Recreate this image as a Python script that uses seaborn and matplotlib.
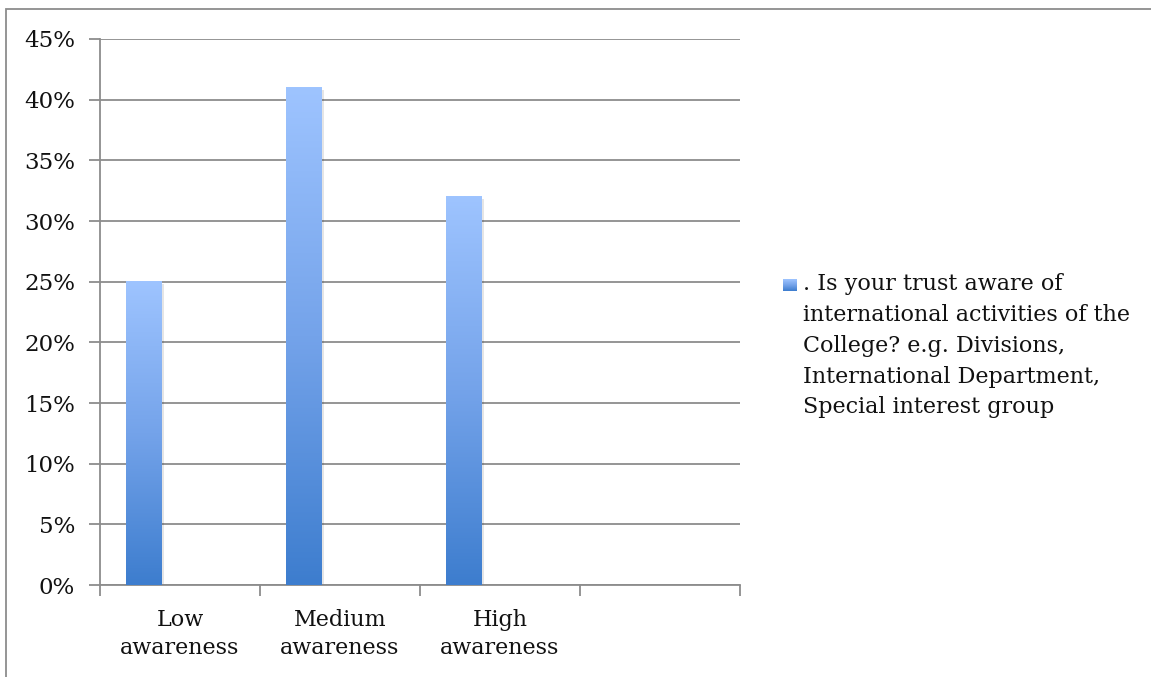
import textwrap
import matplotlib
matplotlib.use('Agg')
import matplotlib.pyplot as plt
import numpy as np
import pandas as pd
import seaborn as sns
from matplotlib.colors import LinearSegmentedColormap
from matplotlib.patches import Rectangle

# ── data ────────────────────────────────────────────────────
categories = ['Low\nawareness', 'Medium\nawareness', 'High\nawareness', '']
series_name = ('. Is your trust aware of international activities of the '
               'College? e.g. Divisions, International Department, '
               'Special interest group')
values = [0.25, 0.41, 0.32, np.nan]          # share of respondents
# the source chart had two more (blank) series in each cluster
blank_series = ['blank 2', 'blank 3']
y_ticks = [0, 0.05, 0.10, 0.15, 0.20, 0.25, 0.30, 0.35, 0.40, 0.45]

rows = []
for c, v in zip(categories, values):
    rows.append({'cat': c, 'series': series_name, 'val': 0 if np.isnan(v) else v})
    for b in blank_series:
        rows.append({'cat': c, 'series': b, 'val': 0})
df = pd.DataFrame(rows)

top_col, bot_col = '#9EC4FF', '#3D7DCE'
grad = LinearSegmentedColormap.from_list('bargrad', [bot_col, '#74A3EA', top_col])
grid_col = '#8C8C8C'

sns.set_style('white')
plt.rcParams['font.family'] = ['DejaVu Serif']
plt.rcParams['text.color'] = '#111111'
plt.rcParams['xtick.labelcolor'] = '#111111'
plt.rcParams['ytick.labelcolor'] = '#111111'

fig = plt.figure(figsize=(11.51, 6.77), dpi=100)
ax = fig.add_axes([100 / 1151, 1 - 585 / 677, 640 / 1151, 546 / 677])

sns.barplot(data=df, x='cat', y='val', hue='series',
            order=categories, hue_order=[series_name] + blank_series,
            width=0.675, palette=[bot_col, 'none', 'none'],
            linewidth=0, legend=False, ax=ax, zorder=3)

# gradient fill on each real bar
for p in list(ax.patches):
    h = p.get_height()
    if not np.isfinite(h) or h <= 0:
        p.set_visible(False)
        continue
    x0, w = p.get_x(), p.get_width()
    # soft shadow
    ax.add_patch(Rectangle((x0 + 0.012, 0), w, h - 0.002, facecolor='#000000',
                           alpha=0.10, linewidth=0, zorder=2.5))
    ax.imshow(np.linspace(0, 1, 256).reshape(-1, 1), cmap=grad, origin='lower',
              extent=[x0, x0 + w, 0, h], aspect='auto', zorder=3.2)
    p.set_visible(False)

ax.set_xlim(-0.5, len(categories) - 0.5)
ax.set_ylim(0, 0.45)
ax.set_yticks(y_ticks)
ax.set_yticklabels([f'{int(round(t * 100))}%' for t in y_ticks], fontsize=16.5)
ax.yaxis.grid(True, color=grid_col, linewidth=1.3, zorder=0)
ax.set_axisbelow(True)
ax.tick_params(axis='y', length=8, width=1.3, color=grid_col, pad=10, left=True)

# slot boundary ticks, labels in the middle
ax.set_xticks(np.arange(-0.5, len(categories), 1.0))
ax.set_xticklabels([])
ax.set_xticks(np.arange(len(categories)), minor=True)
ax.set_xticklabels(categories, minor=True, fontsize=16, linespacing=1.35)
ax.tick_params(axis='x', which='major', length=8, width=1.3, color=grid_col,
               bottom=True)
ax.tick_params(axis='x', which='minor', length=0, pad=17)
ax.set_xlabel('')
ax.set_ylabel('')

for s in ['top', 'right']:
    ax.spines[s].set_visible(False)
for s in ['left', 'bottom']:
    ax.spines[s].set_color(grid_col)
    ax.spines[s].set_linewidth(1.3)

# legend drawn by hand so the marker sits on the first line
lab = textwrap.fill(series_name, width=31)
fig.text(803 / 1151, 1 - 273 / 677, lab, fontsize=16, va='top', ha='left',
         linespacing=1.52)
lax = fig.add_axes([783 / 1151, 1 - 291 / 677, 14 / 1151, 12 / 677])
lax.imshow(np.linspace(0, 1, 64).reshape(-1, 1), cmap=grad, origin='lower',
           aspect='auto')
lax.axis('off')

# outer chart frame
fig.patches.append(Rectangle((6 / 1151, -0.05), 1.2, 1 - 9 / 677 + 0.05,
                             transform=fig.transFigure, fill=False,
                             edgecolor='#8C8C8C', linewidth=1.3))

fig.savefig('out.png', dpi=100)
